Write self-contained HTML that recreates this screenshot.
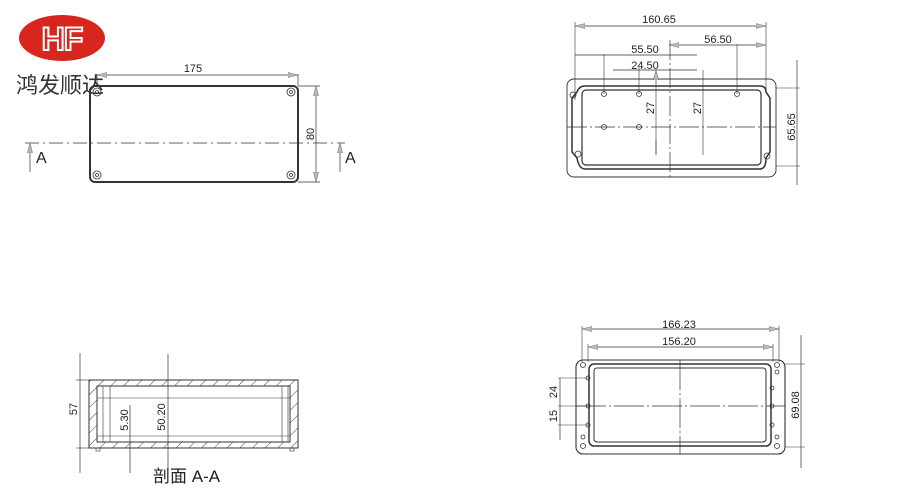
<!DOCTYPE html>
<html><head><meta charset="utf-8"><style>
html,body{margin:0;padding:0;background:#fff;width:900px;height:500px;overflow:hidden}
svg{display:block}
text{font-family:"Liberation Sans","Noto Sans CJK SC",sans-serif;fill:#222}
</style></head><body>
<svg width="900" height="500" viewBox="0 0 900 500" xmlns="http://www.w3.org/2000/svg">
<defs>
<marker id="ar" viewBox="0 0 10 6" refX="10" refY="3" markerWidth="10" markerHeight="6" orient="auto-start-reverse" markerUnits="userSpaceOnUse"><path d="M0,0.5 L10,3 L0,5.5 Z" fill="#bbb" stroke="#777" stroke-width="0.6"/></marker>
<pattern id="hat" patternUnits="userSpaceOnUse" width="9" height="9" patternTransform="rotate(45)"><line x1="0" y1="0" x2="0" y2="9" stroke="#444" stroke-width="1"/></pattern>
</defs>
<!-- logo -->
<ellipse cx="62" cy="38" rx="43" ry="23" fill="#d8261e"/>
<text x="62" y="50" font-size="32" font-weight="bold" text-anchor="middle" fill="none" stroke="#fff" stroke-width="2" style="fill:none;letter-spacing:-1px">HF</text>
<text x="16" y="93" font-size="22" style="fill:#333">鸿发顺达</text>

<g stroke="#333" fill="none" stroke-width="1">
<!-- top-left view -->
<rect x="90" y="86" width="208" height="96" rx="5" stroke-width="2"/>
<line x1="97" y1="75" x2="298" y2="75" stroke-width="0.7" marker-start="url(#ar)" marker-end="url(#ar)"/>
<line x1="298" y1="74" x2="298" y2="86" stroke-width="0.7"/>
<line x1="97" y1="74" x2="97" y2="86" stroke-width="0.7"/>
<line x1="316" y1="86" x2="316" y2="182" stroke-width="0.7" marker-start="url(#ar)" marker-end="url(#ar)"/>
<line x1="298" y1="86" x2="320" y2="86" stroke-width="0.7"/><line x1="298" y1="182" x2="320" y2="182" stroke-width="0.7"/>
<line x1="25" y1="143" x2="345" y2="143" stroke-width="0.8" stroke-dasharray="14,4,2,4"/>
<line x1="30" y1="143" x2="30" y2="172" stroke-width="0.7" marker-start="url(#ar)"/>
<line x1="340" y1="143" x2="340" y2="172" stroke-width="0.7" marker-start="url(#ar)"/>
<g stroke-width="0.8"><circle cx="97" cy="92" r="4"/><circle cx="97" cy="92" r="1.5"/><circle cx="291" cy="92" r="4"/><circle cx="291" cy="92" r="1.5"/><circle cx="97" cy="175" r="4"/><circle cx="97" cy="175" r="1.5"/><circle cx="291" cy="175" r="4"/><circle cx="291" cy="175" r="1.5"/></g>

<!-- top-right view -->
<rect x="567" y="79" width="209" height="98" rx="7" stroke-width="0.9"/>
<path d="M585,86 H760 Q766,86 766,92 L770,98 V152 L766,158 Q766,169 760,169 H585 Q579,169 577,158 L572,152 V98 L577,92 Q579,86 585,86 Z" stroke-width="1.5"/>
<rect x="582" y="90" width="179" height="75" rx="4" stroke-width="1.2"/>
<line x1="575" y1="26" x2="766" y2="26" stroke-width="0.7" marker-start="url(#ar)" marker-end="url(#ar)"/>
<line x1="575" y1="22" x2="575" y2="100" stroke-width="0.6"/><line x1="766" y1="22" x2="766" y2="90" stroke-width="0.6"/>
<line x1="669" y1="45" x2="766" y2="45" stroke-width="0.7" marker-start="url(#ar)" marker-end="url(#ar)"/>
<line x1="737" y1="44" x2="737" y2="94" stroke-width="0.6"/>
<line x1="575" y1="55" x2="697" y2="55" stroke-width="0.7"/>
<line x1="604" y1="54" x2="604" y2="94" stroke-width="0.6"/>
<line x1="613" y1="70" x2="697" y2="70" stroke-width="0.7"/>
<line x1="639" y1="68" x2="639" y2="94" stroke-width="0.6"/>
<line x1="670" y1="40" x2="670" y2="177" stroke-width="0.7" stroke-dasharray="20,3,2,3"/>
<line x1="567" y1="127" x2="776" y2="127" stroke-width="0.7" stroke-dasharray="20,3,2,3"/>
<line x1="656" y1="70" x2="656" y2="155" stroke-width="0.6" marker-start="url(#ar)"/>
<line x1="703" y1="70" x2="703" y2="155" stroke-width="0.6"/>
<line x1="656" y1="140" x2="656" y2="155" stroke-width="0.6"/>
<line x1="797" y1="60" x2="797" y2="185" stroke-width="0.7"/>
<line x1="776" y1="88" x2="800" y2="88" stroke-width="0.6"/><line x1="776" y1="166" x2="800" y2="166" stroke-width="0.6"/>
<g stroke-width="0.8"><circle cx="604" cy="94" r="2.5"/><circle cx="639" cy="94" r="2.5"/><circle cx="737" cy="94" r="2.5"/><circle cx="604" cy="127" r="2.5"/><circle cx="639" cy="127" r="2.5"/><circle cx="573" cy="95" r="3"/><circle cx="578" cy="154" r="3"/><circle cx="767" cy="156" r="3"/></g>

<!-- bottom-left section -->
<rect x="89" y="380" width="209" height="68" fill="url(#hat)" stroke-width="1"/>
<rect x="97" y="386" width="193" height="56" fill="#fff" stroke-width="1"/>
<line x1="103" y1="386" x2="103" y2="442" stroke-width="0.6"/><line x1="110" y1="386" x2="110" y2="442" stroke-width="0.6"/>
<line x1="282" y1="386" x2="282" y2="442" stroke-width="0.6"/><line x1="288" y1="386" x2="288" y2="442" stroke-width="0.6"/>
<line x1="97" y1="398" x2="290" y2="398" stroke-width="0.6"/>
<line x1="97" y1="436" x2="290" y2="436" stroke-width="0.6"/>
<line x1="80" y1="353" x2="80" y2="473" stroke-width="0.7"/>
<line x1="76" y1="380" x2="89" y2="380" stroke-width="0.6"/><line x1="76" y1="448" x2="89" y2="448" stroke-width="0.6"/>
<line x1="168" y1="354" x2="168" y2="473" stroke-width="0.7"/>
<line x1="130" y1="405" x2="130" y2="473" stroke-width="0.7"/>
<rect x="96" y="448" width="4" height="3" stroke-width="0.6"/><rect x="290" y="448" width="4" height="3" stroke-width="0.6"/>

<!-- bottom-right view -->
<rect x="576" y="360" width="209" height="94" rx="7" stroke-width="1.1"/>
<rect x="589" y="364" width="182" height="82" rx="5" stroke-width="1.5"/>
<rect x="594" y="368" width="172" height="74" rx="3" stroke-width="1"/>
<line x1="582" y1="329" x2="779" y2="329" stroke-width="0.7" marker-start="url(#ar)" marker-end="url(#ar)"/>
<line x1="582" y1="326" x2="582" y2="362" stroke-width="0.6"/><line x1="779" y1="326" x2="779" y2="362" stroke-width="0.6"/>
<line x1="588" y1="347" x2="773" y2="347" stroke-width="0.7" marker-start="url(#ar)" marker-end="url(#ar)"/>
<line x1="588" y1="344" x2="588" y2="362" stroke-width="0.6"/><line x1="773" y1="344" x2="773" y2="362" stroke-width="0.6"/>
<line x1="680" y1="360" x2="680" y2="454" stroke-width="0.7" stroke-dasharray="30,3,2,3"/>
<line x1="576" y1="406" x2="785" y2="406" stroke-width="0.7" stroke-dasharray="30,3,2,3"/>
<line x1="801" y1="335" x2="801" y2="468" stroke-width="0.7"/>
<line x1="785" y1="364" x2="805" y2="364" stroke-width="0.6"/><line x1="785" y1="447" x2="805" y2="447" stroke-width="0.6"/>
<line x1="560" y1="378" x2="560" y2="440" stroke-width="0.7"/>
<line x1="558" y1="378" x2="588" y2="378" stroke-width="0.6"/><line x1="558" y1="406" x2="588" y2="406" stroke-width="0.6"/><line x1="558" y1="425" x2="588" y2="425" stroke-width="0.6"/>
<g stroke-width="0.8"><circle cx="583" cy="365" r="2.5"/><circle cx="583" cy="446" r="2.5"/><circle cx="777" cy="365" r="2.5"/><circle cx="777" cy="446" r="2.5"/>
<circle cx="588" cy="378" r="2"/><circle cx="588" cy="406" r="2"/><circle cx="588" cy="425" r="2"/><circle cx="772" cy="388" r="2"/><circle cx="772" cy="406" r="2"/><circle cx="772" cy="425" r="2"/><circle cx="583" cy="437" r="2"/><circle cx="777" cy="372" r="2"/><circle cx="777" cy="437" r="2"/></g>
</g>

<!-- labels -->
<g font-size="11">
<text x="193" y="72" text-anchor="middle">175</text>
<text transform="translate(314,134) rotate(-90)" text-anchor="middle">80</text>
<text x="659" y="23" text-anchor="middle">160.65</text>
<text x="718" y="43" text-anchor="middle">56.50</text>
<text x="645" y="53" text-anchor="middle">55.50</text>
<text x="645" y="69" text-anchor="middle">24.50</text>
<text transform="translate(654,108) rotate(-90)" text-anchor="middle">27</text>
<text transform="translate(701,108) rotate(-90)" text-anchor="middle">27</text>
<text transform="translate(795,127) rotate(-90)" text-anchor="middle">65.65</text>
<text transform="translate(77,409) rotate(-90)" text-anchor="middle">57</text>
<text transform="translate(165,417) rotate(-90)" text-anchor="middle">50.20</text>
<text transform="translate(128,420) rotate(-90)" text-anchor="middle">5.30</text>
<text x="679" y="328" text-anchor="middle">166.23</text>
<text x="679" y="345" text-anchor="middle">156.20</text>
<text transform="translate(799,405) rotate(-90)" text-anchor="middle">69.08</text>
<text transform="translate(557,392) rotate(-90)" text-anchor="middle">24</text>
<text transform="translate(557,416) rotate(-90)" text-anchor="middle">15</text>
</g>
<text x="36" y="163" font-size="16">A</text>
<text x="345" y="163" font-size="16">A</text>
<text x="153" y="482" font-size="17">剖面 A-A</text>
</svg>
</body></html>
